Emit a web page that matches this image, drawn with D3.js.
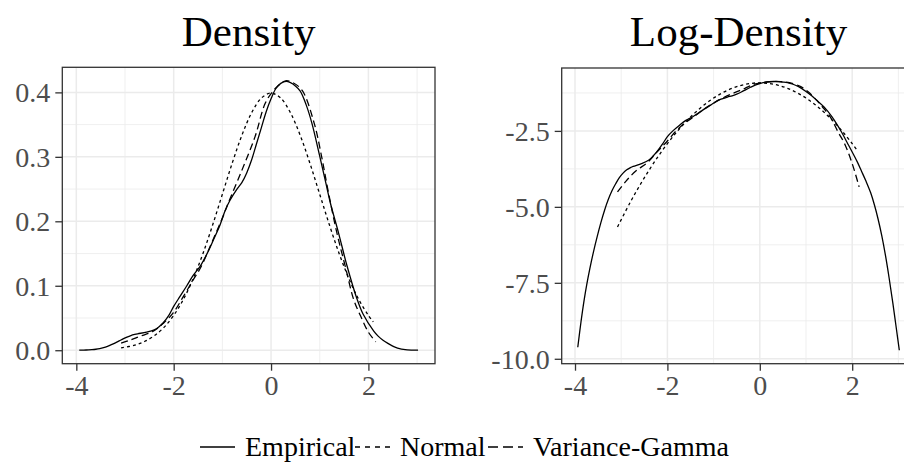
<!DOCTYPE html>
<html>
<head>
<meta charset="utf-8">
<script src="https://cdn.jsdelivr.net/npm/d3@7"></script>
<style>
  html, body { margin: 0; padding: 0; background: #fff; }
  svg { display: block; }
  text { font-family: "Liberation Serif", "Times New Roman", serif; }
</style>
</head>
<body>
<svg id="chart" width="904" height="476"></svg>
<script>
// ---------------- DATA ----------------
const panelTitles = ["Density", "Log-Density"];
const seriesNames = ["Empirical", "Normal", "Variance-Gamma"];

const empiricalX = [-3.94,-3.87,-3.80,-3.745,-3.68,-3.60,-3.52,-3.44,-3.36,-3.28,-3.20,-3.12,-3.04,-2.96,-2.88,-2.80,-2.74,-2.56,-2.40,-2.30,-2.21,-2.10,-2.00,-1.87,-1.73,-1.60,-1.45,-1.30,-1.185,-1.05,-0.94,-0.84,-0.70,-0.60,-0.50,-0.40,-0.30,-0.20,-0.10,0.00,0.10,0.20,0.31,0.40,0.50,0.60,0.72,0.84,1.00,1.13,1.22,1.39,1.56,1.765,1.89,2.11,2.20,2.30,2.40,2.48,2.56,2.64,2.72,2.80,2.88,2.96,3.02];
const empiricalD = [0.0000664,0.0001537,0.000321,0.000526,0.000876,0.001534,0.00253,0.00401,0.00604,0.00857,0.01145,0.01441,0.0176,0.02045,0.0228,0.0245,0.0255,0.0280,0.0315,0.0365,0.043,0.054,0.068,0.0835,0.100,0.116,0.131,0.152,0.171,0.194,0.217,0.233,0.250,0.260,0.275,0.295,0.320,0.345,0.370,0.390,0.406,0.414,0.417,0.415,0.410,0.402,0.381,0.352,0.301,0.258,0.228,0.181,0.131,0.0797,0.0561,0.0296,0.0219,0.0156,0.0107,0.00723,0.00452,0.00261,0.00136,0.000643,0.000283,0.000117,0.0000601];

const normalX = [-3.08,-2.8,-2.6,-2.4,-2.2,-2.0,-1.8,-1.6,-1.4,-1.2,-1.0,-0.8,-0.6,-0.4,-0.2,0.0,0.2,0.4,0.6,0.8,1.0,1.2,1.4,1.6,1.8,2.0,2.1];
const normalD = [0.00348,0.00792,0.01358,0.02239,0.03547,0.05399,0.07895,0.11092,0.14973,0.19419,0.24197,0.28969,0.33322,0.36827,0.39104,0.39894,0.39104,0.36827,0.33322,0.28969,0.24197,0.19419,0.14973,0.11092,0.07895,0.05399,0.04398];

const vgX = [-3.08,-2.90,-2.69,-2.42,-2.21,-2.01,-1.80,-1.60,-1.44,-1.20,-1.00,-0.88,-0.60,-0.33,-0.12,0.05,0.17,0.30,0.45,0.64,0.887,1.04,1.16,1.354,1.525,1.70,1.84,2.00,2.15];
const vgD = [0.011,0.0156,0.0217,0.0294,0.042,0.058,0.0835,0.109,0.129,0.170,0.205,0.228,0.279,0.331,0.383,0.403,0.412,0.418,0.415,0.403,0.352,0.300,0.252,0.1815,0.130,0.078,0.053,0.028,0.013];

const xTicks = [-4, -2, 0, 2];
const xTickLabels = ["-4", "-2", "0", "2"];
const xMinor = [-3, -1, 1, 3];
const densTicks = [0, 0.1, 0.2, 0.3, 0.4];
const densTickLabels = ["0.0", "0.1", "0.2", "0.3", "0.4"];
const densMinor = [0.05, 0.15, 0.25, 0.35];
const logTicks = [-10, -7.5, -5, -2.5];
const logTickLabels = ["-10.0", "-7.5", "-5.0", "-2.5"];
const logMinor = [-8.75, -6.25, -3.75, -1.25];

// ---------------- DRAW ----------------
const svg = d3.select("#chart");
const dashes = { "Empirical": null, "Normal": "3,3", "Variance-Gamma": "7,4" };
const keyDashes = { "Empirical": null, "Normal": "5,5", "Variance-Gamma": "10,5" };

const series = [
  { name: "Empirical", x: empiricalX, d: empiricalD },
  { name: "Normal", x: normalX, d: normalD },
  { name: "Variance-Gamma", x: vgX, d: vgD }
];

function expand(ext) { const r = ext[1] - ext[0]; return [ext[0] - 0.05 * r, ext[1] + 0.05 * r]; }

const allX = series.flatMap(s => s.x);
const xDomain = expand(d3.extent(allX));
const densDomain = expand([0, d3.max(series.flatMap(s => s.d))]);
const logDomain = expand(d3.extent(series.flatMap(s => s.d.map(Math.log))));

const panels = [
  { title: panelTitles[0], left: 62.3, right: 435, top: 67.3, bottom: 363.7,
    yDomain: densDomain, yTicks: densTicks, yLabels: densTickLabels, yMinor: densMinor,
    val: v => v },
  { title: panelTitles[1], left: 561.7, right: 915.4, top: 68, bottom: 363.7,
    yDomain: logDomain, yTicks: logTicks, yLabels: logTickLabels, yMinor: logMinor,
    val: v => Math.log(v) }
];

panels.forEach((p, i) => {
  const x = d3.scaleLinear().domain(xDomain).range([p.left, p.right]);
  const y = d3.scaleLinear().domain(p.yDomain).range([p.bottom, p.top]);
  const g = svg.append("g");

  const clipId = "clip" + i;
  svg.append("clipPath").attr("id", clipId).append("rect")
    .attr("x", p.left).attr("y", p.top).attr("width", p.right - p.left).attr("height", p.bottom - p.top);

  // minor grid
  g.selectAll(".mx").data(xMinor).enter().append("line")
    .attr("x1", d => x(d)).attr("x2", d => x(d)).attr("y1", p.top).attr("y2", p.bottom)
    .attr("stroke", "#EBEBEB").attr("stroke-width", 0.8);
  g.selectAll(".my").data(p.yMinor).enter().append("line")
    .attr("y1", d => y(d)).attr("y2", d => y(d)).attr("x1", p.left).attr("x2", p.right)
    .attr("stroke", "#EBEBEB").attr("stroke-width", 0.8);
  // major grid
  g.selectAll(".Mx").data(xTicks).enter().append("line")
    .attr("x1", d => x(d)).attr("x2", d => x(d)).attr("y1", p.top).attr("y2", p.bottom)
    .attr("stroke", "#EBEBEB").attr("stroke-width", 1.5);
  g.selectAll(".My").data(p.yTicks).enter().append("line")
    .attr("y1", d => y(d)).attr("y2", d => y(d)).attr("x1", p.left).attr("x2", p.right)
    .attr("stroke", "#EBEBEB").attr("stroke-width", 1.5);

  // curves
  const line = d3.line().x(d => x(d[0])).y(d => y(d[1])).curve(d3.curveCatmullRom.alpha(0.5));
  const cg = g.append("g").attr("clip-path", `url(#${clipId})`);
  series.forEach(s => {
    const pts = s.x.map((xv, k) => [xv, p.val(s.d[k])]);
    cg.append("path").attr("d", line(pts))
      .attr("fill", "none").attr("stroke", "#000").attr("stroke-width", 1.3)
      .attr("stroke-dasharray", dashes[s.name]);
  });

  // panel border
  g.append("rect").attr("x", p.left).attr("y", p.top)
    .attr("width", p.right - p.left).attr("height", p.bottom - p.top)
    .attr("fill", "none").attr("stroke", "#333333").attr("stroke-width", 1.3);

  // axes
  const xAxis = d3.axisBottom(x).tickValues(xTicks).tickSize(7).tickPadding(4)
    .tickFormat((d, k) => xTickLabels[k]);
  const xa = g.append("g").attr("transform", `translate(0,${p.bottom})`).call(xAxis);
  xa.select(".domain").remove();
  xa.selectAll(".tick line").attr("stroke", "#333333").attr("stroke-width", 1.3);
  xa.selectAll(".tick text").attr("font-family", "Liberation Serif").attr("font-size", 28)
    .attr("fill", "#4D4D4D").attr("dy", "0.71em");

  const yAxis = d3.axisLeft(y).tickValues(p.yTicks).tickSize(7).tickPadding(5)
    .tickFormat((d, k) => p.yLabels[k]);
  const ya = g.append("g").attr("transform", `translate(${p.left},0)`).call(yAxis);
  ya.select(".domain").remove();
  ya.selectAll(".tick line").attr("stroke", "#333333").attr("stroke-width", 1.3);
  ya.selectAll(".tick text").attr("font-family", "Liberation Serif").attr("font-size", 28)
    .attr("fill", "#4D4D4D").attr("dy", "0.34em");

  // title
  svg.append("text").attr("x", (p.left + p.right) / 2).attr("y", 46)
    .attr("text-anchor", "middle").attr("font-size", 43).attr("fill", "#000")
    .text(p.title);
});

// legend
const legendKeys = [
  { name: seriesNames[0], x0: 200 },
  { name: seriesNames[1], x0: 355 },
  { name: seriesNames[2], x0: 488 }
];
const lg = svg.append("g");
legendKeys.forEach(k => {
  lg.append("line").attr("x1", k.x0).attr("x2", k.x0 + 35).attr("y1", 447).attr("y2", 447)
    .attr("stroke", "#000").attr("stroke-width", 1.3).attr("stroke-dasharray", keyDashes[k.name]);
  lg.append("text").attr("x", k.x0 + 45).attr("y", 456).attr("font-size", 28).attr("fill", "#000")
    .text(k.name);
});
</script>
</body>
</html>
